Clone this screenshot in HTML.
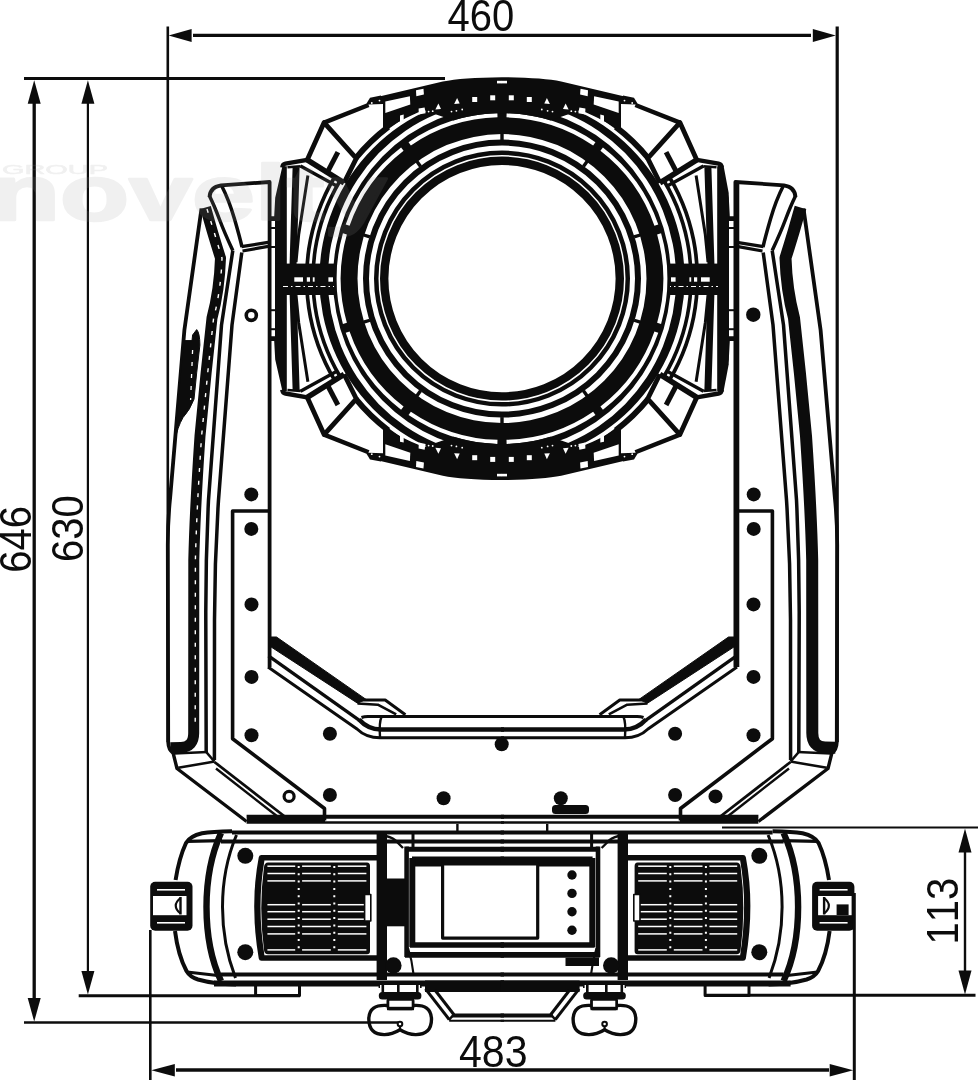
<!DOCTYPE html>
<html><head><meta charset="utf-8"><title>Dimensions</title>
<style>
html,body{margin:0;padding:0;background:#fff;}
body{width:978px;height:1080px;overflow:hidden;font-family:"Liberation Sans",sans-serif;}
svg{display:block;position:absolute;left:0;top:0;will-change:transform;}
svg text{font-family:"Liberation Sans",sans-serif;stroke:none;font-kerning:none;}
</style></head><body>
<svg width="978" height="1080" viewBox="0 0 978 1080" fill="none" stroke="#0c0c0c" stroke-linecap="butt" stroke-linejoin="round">
<path d="M304.8,278.6 A197.2,199 0 1 0 699.2,278.6 A197.2,199 0 1 0 304.8,278.6 Z M308.5,278.6 A193.5,195 0 1 0 695.5,278.6 A193.5,195 0 1 0 308.5,278.6 Z" fill="#0c0c0c" fill-rule="evenodd" stroke="none"/><path d="M311.2,278.6 A190.8,192 0 1 0 692.8,278.6 A190.8,192 0 1 0 311.2,278.6 Z M314.8,278.6 A187.2,188 0 1 0 689.2,278.6 A187.2,188 0 1 0 314.8,278.6 Z" fill="#0c0c0c" fill-rule="evenodd" stroke="none"/><path d="M319.4,278.6 A182.6,184 0 1 0 684.6,278.6 A182.6,184 0 1 0 319.4,278.6 Z M327.9,278.6 A174.1,177.5 0 1 0 676.1,278.6 A174.1,177.5 0 1 0 327.9,278.6 Z" fill="#0c0c0c" fill-rule="evenodd" stroke="none"/><path d="M333.0,278.6 A169,172.5 0 1 0 671.0,278.6 A169,172.5 0 1 0 333.0,278.6 Z M357.5,278.6 A144.5,144.5 0 1 0 646.5,278.6 A144.5,144.5 0 1 0 357.5,278.6 Z" fill="#0c0c0c" fill-rule="evenodd" stroke="none"/><circle cx="502.0" cy="278.6" r="136" stroke-width="6" /><circle cx="502.0" cy="278.6" r="125.75" stroke-width="4.5" /><circle cx="502.0" cy="278.6" r="117.8" stroke-width="8.4" /><path d="M656.36,332.05 A163.35,163.35 0 0 1 601.67,408.02" stroke-width="4.1" stroke="#fff"/><path d="M594.29,413.38 A163.35,163.35 0 0 1 506.56,441.89" stroke-width="4.1" stroke="#fff"/><path d="M497.44,441.89 A163.35,163.35 0 0 1 409.71,413.38" stroke-width="4.1" stroke="#fff"/><path d="M402.33,408.02 A163.35,163.35 0 0 1 347.64,332.05" stroke-width="4.1" stroke="#fff"/><path d="M344.90,323.35 A163.35,163.35 0 0 1 344.90,233.85" stroke-width="4.1" stroke="#fff"/><path d="M347.64,225.15 A163.35,163.35 0 0 1 402.33,149.18" stroke-width="4.1" stroke="#fff"/><path d="M409.71,143.82 A163.35,163.35 0 0 1 497.44,115.31" stroke-width="4.1" stroke="#fff"/><path d="M506.56,115.31 A163.35,163.35 0 0 1 594.29,143.82" stroke-width="4.1" stroke="#fff"/><path d="M601.67,149.18 A163.35,163.35 0 0 1 656.36,225.15" stroke-width="4.1" stroke="#fff"/><path d="M659.10,233.85 A163.35,163.35 0 0 1 659.10,323.35" stroke-width="4.1" stroke="#fff"/><line x1="502.00" y1="140.10" x2="502.00" y2="133.60" stroke-width="3.4"/><line x1="420.59" y1="166.55" x2="416.77" y2="161.29" stroke-width="3.4"/><line x1="583.41" y1="166.55" x2="587.23" y2="161.29" stroke-width="3.4"/><line x1="502.00" y1="417.10" x2="502.00" y2="423.60" stroke-width="3.4"/><line x1="420.59" y1="390.65" x2="416.77" y2="395.91" stroke-width="3.4"/><line x1="583.41" y1="390.65" x2="587.23" y2="395.91" stroke-width="3.4"/><line x1="369.91" y1="236.95" x2="363.71" y2="235.00" stroke-width="3.4"/><line x1="634.09" y1="236.95" x2="640.29" y2="235.00" stroke-width="3.4"/><line x1="369.91" y1="320.25" x2="363.71" y2="322.20" stroke-width="3.4"/><line x1="634.09" y1="320.25" x2="640.29" y2="322.20" stroke-width="3.4"/><g><g><path d="M380.4,96.2 L442.8,81.5 Q462,77.6 502,77.2 L502,113.4 L496.23,113.30 L490.46,113.60 L484.71,114.11 L478.98,114.81 L473.28,115.71 L467.61,116.81 L461.99,118.11 L456.41,119.61 L453.64,120.43 L423.90,110.21 L417.86,112.58 L411.89,115.16 L406.00,117.97 L400.19,120.99 L394.47,124.22 L388.86,127.66 L387.6,128.6 L383,129.6 L383,122.4 L380.4,122.4 Z" fill="#0c0c0c" stroke="none"/><polygon points="366.50,103.50 370.00,97.80 381.00,95.60 381.00,106.00 371.00,107.00" fill="#0c0c0c" stroke="none"/><circle cx="371.8" cy="103" r="0.9" fill="#fff" stroke="none"/><circle cx="379.5" cy="100.6" r="0.9" fill="#fff" stroke="none"/><polygon points="385.30,101.60 409.90,96.30 410.30,104.40 385.30,113.00" fill="#fff" stroke="none"/><polygon points="400.00,115.50 403.70,114.60 403.70,121.50 400.00,122.40" fill="#fff" stroke="none"/><polygon points="418.60,108.60 424.60,107.40 425.60,113.20 418.80,114.60" fill="#fff" stroke="none"/><polygon points="416.00,90.30 423.50,88.70 423.90,94.60 416.30,96.20" fill="#fff" stroke="none"/><rect x="490.20" y="95.30" width="5" height="5" fill="#fff" stroke="none"/><rect x="472.20" y="97.00" width="5" height="5" fill="#fff" stroke="none"/><polygon points="454.10,104.00 457.10,98.00 459.70,103.60" fill="#fff" stroke="none"/><polygon points="435.40,109.40 438.40,103.40 441.00,109.00" fill="#fff" stroke="none"/><circle cx="428.6" cy="111.6" r="0.9" fill="#fff" stroke="none"/><circle cx="432.7" cy="111.2" r="0.9" fill="#fff" stroke="none"/><circle cx="451.5" cy="111.6" r="0.9" fill="#fff" stroke="none"/><circle cx="456.4" cy="110.8" r="0.9" fill="#fff" stroke="none"/><circle cx="462.2" cy="109.5" r="0.9" fill="#fff" stroke="none"/><rect x="497" y="80.8" width="5.2" height="2.6" fill="#fff" stroke="none"/><polygon points="324.10,122.60 368.80,104.50 383.00,104.00 383.00,129.60 387.60,128.60 386.75,130.45 381.67,134.58 376.74,138.89 371.96,143.36 367.34,148.00 362.88,152.80 358.60,157.76 356.30,158.40" fill="#fff" stroke="none"/><path d="M355.74,158.26 A189,190 0 0 1 388.26,126.86" stroke-width="5.8" /><path d="M324.1,122.6 L368.6,105" stroke-width="4.4" /><polygon points="324.10,122.60 356.30,158.40 344.10,182.90 307.20,159.90" fill="#fff" stroke="none"/><path d="M307.2,159.9 L324.1,122.6 L356.3,158.4 L344.1,182.9" stroke-width="4.8" /><path d="M307.2,159.9 L344.1,182.9" stroke-width="5.5" /><path d="M300.5,166 L335.9,185.4" stroke-width="3.4" /><path d="M337.9,152.2 L327.7,171.7" stroke-width="5" /><path d="M307.2,159.9 L285.4,163.7 Q282.6,164.2 282.3,167.5" stroke-width="4.4" /><path d="M287.5,167.2 L300.7,166.2" stroke-width="2.6" /></g><g transform="translate(0,557.2) scale(1,-1)"><path d="M380.4,96.2 L442.8,81.5 Q462,77.6 502,77.2 L502,113.4 L496.23,113.30 L490.46,113.60 L484.71,114.11 L478.98,114.81 L473.28,115.71 L467.61,116.81 L461.99,118.11 L456.41,119.61 L453.64,120.43 L423.90,110.21 L417.86,112.58 L411.89,115.16 L406.00,117.97 L400.19,120.99 L394.47,124.22 L388.86,127.66 L387.6,128.6 L383,129.6 L383,122.4 L380.4,122.4 Z" fill="#0c0c0c" stroke="none"/><polygon points="366.50,103.50 370.00,97.80 381.00,95.60 381.00,106.00 371.00,107.00" fill="#0c0c0c" stroke="none"/><circle cx="371.8" cy="103" r="0.9" fill="#fff" stroke="none"/><circle cx="379.5" cy="100.6" r="0.9" fill="#fff" stroke="none"/><polygon points="385.30,101.60 409.90,96.30 410.30,104.40 385.30,113.00" fill="#fff" stroke="none"/><polygon points="400.00,115.50 403.70,114.60 403.70,121.50 400.00,122.40" fill="#fff" stroke="none"/><polygon points="418.60,108.60 424.60,107.40 425.60,113.20 418.80,114.60" fill="#fff" stroke="none"/><polygon points="416.00,90.30 423.50,88.70 423.90,94.60 416.30,96.20" fill="#fff" stroke="none"/><rect x="490.20" y="95.30" width="5" height="5" fill="#fff" stroke="none"/><rect x="472.20" y="97.00" width="5" height="5" fill="#fff" stroke="none"/><polygon points="454.10,104.00 457.10,98.00 459.70,103.60" fill="#fff" stroke="none"/><polygon points="435.40,109.40 438.40,103.40 441.00,109.00" fill="#fff" stroke="none"/><circle cx="428.6" cy="111.6" r="0.9" fill="#fff" stroke="none"/><circle cx="432.7" cy="111.2" r="0.9" fill="#fff" stroke="none"/><circle cx="451.5" cy="111.6" r="0.9" fill="#fff" stroke="none"/><circle cx="456.4" cy="110.8" r="0.9" fill="#fff" stroke="none"/><circle cx="462.2" cy="109.5" r="0.9" fill="#fff" stroke="none"/><rect x="497" y="80.8" width="5.2" height="2.6" fill="#fff" stroke="none"/><polygon points="324.10,122.60 368.80,104.50 383.00,104.00 383.00,129.60 387.60,128.60 386.75,130.45 381.67,134.58 376.74,138.89 371.96,143.36 367.34,148.00 362.88,152.80 358.60,157.76 356.30,158.40" fill="#fff" stroke="none"/><path d="M355.74,158.26 A189,190 0 0 1 388.26,126.86" stroke-width="5.8" /><path d="M324.1,122.6 L368.6,105" stroke-width="4.4" /><polygon points="324.10,122.60 356.30,158.40 344.10,182.90 307.20,159.90" fill="#fff" stroke="none"/><path d="M307.2,159.9 L324.1,122.6 L356.3,158.4 L344.1,182.9" stroke-width="4.8" /><path d="M307.2,159.9 L344.1,182.9" stroke-width="5.5" /><path d="M300.5,166 L335.9,185.4" stroke-width="3.4" /><path d="M337.9,152.2 L327.7,171.7" stroke-width="5" /><path d="M307.2,159.9 L285.4,163.7 Q282.6,164.2 282.3,167.5" stroke-width="4.4" /><path d="M287.5,167.2 L300.7,166.2" stroke-width="2.6" /></g></g><g transform="translate(1004.0,0) scale(-1,1)"><g><path d="M380.4,96.2 L442.8,81.5 Q462,77.6 502,77.2 L502,113.4 L496.23,113.30 L490.46,113.60 L484.71,114.11 L478.98,114.81 L473.28,115.71 L467.61,116.81 L461.99,118.11 L456.41,119.61 L453.64,120.43 L423.90,110.21 L417.86,112.58 L411.89,115.16 L406.00,117.97 L400.19,120.99 L394.47,124.22 L388.86,127.66 L387.6,128.6 L383,129.6 L383,122.4 L380.4,122.4 Z" fill="#0c0c0c" stroke="none"/><polygon points="366.50,103.50 370.00,97.80 381.00,95.60 381.00,106.00 371.00,107.00" fill="#0c0c0c" stroke="none"/><circle cx="371.8" cy="103" r="0.9" fill="#fff" stroke="none"/><circle cx="379.5" cy="100.6" r="0.9" fill="#fff" stroke="none"/><polygon points="385.30,101.60 409.90,96.30 410.30,104.40 385.30,113.00" fill="#fff" stroke="none"/><polygon points="400.00,115.50 403.70,114.60 403.70,121.50 400.00,122.40" fill="#fff" stroke="none"/><polygon points="418.60,108.60 424.60,107.40 425.60,113.20 418.80,114.60" fill="#fff" stroke="none"/><polygon points="416.00,90.30 423.50,88.70 423.90,94.60 416.30,96.20" fill="#fff" stroke="none"/><rect x="490.20" y="95.30" width="5" height="5" fill="#fff" stroke="none"/><rect x="472.20" y="97.00" width="5" height="5" fill="#fff" stroke="none"/><polygon points="454.10,104.00 457.10,98.00 459.70,103.60" fill="#fff" stroke="none"/><polygon points="435.40,109.40 438.40,103.40 441.00,109.00" fill="#fff" stroke="none"/><circle cx="428.6" cy="111.6" r="0.9" fill="#fff" stroke="none"/><circle cx="432.7" cy="111.2" r="0.9" fill="#fff" stroke="none"/><circle cx="451.5" cy="111.6" r="0.9" fill="#fff" stroke="none"/><circle cx="456.4" cy="110.8" r="0.9" fill="#fff" stroke="none"/><circle cx="462.2" cy="109.5" r="0.9" fill="#fff" stroke="none"/><rect x="497" y="80.8" width="5.2" height="2.6" fill="#fff" stroke="none"/><polygon points="324.10,122.60 368.80,104.50 383.00,104.00 383.00,129.60 387.60,128.60 386.75,130.45 381.67,134.58 376.74,138.89 371.96,143.36 367.34,148.00 362.88,152.80 358.60,157.76 356.30,158.40" fill="#fff" stroke="none"/><path d="M355.74,158.26 A189,190 0 0 1 388.26,126.86" stroke-width="5.8" /><path d="M324.1,122.6 L368.6,105" stroke-width="4.4" /><polygon points="324.10,122.60 356.30,158.40 344.10,182.90 307.20,159.90" fill="#fff" stroke="none"/><path d="M307.2,159.9 L324.1,122.6 L356.3,158.4 L344.1,182.9" stroke-width="4.8" /><path d="M307.2,159.9 L344.1,182.9" stroke-width="5.5" /><path d="M300.5,166 L335.9,185.4" stroke-width="3.4" /><path d="M337.9,152.2 L327.7,171.7" stroke-width="5" /><path d="M307.2,159.9 L285.4,163.7 Q282.6,164.2 282.3,167.5" stroke-width="4.4" /><path d="M287.5,167.2 L300.7,166.2" stroke-width="2.6" /></g><g transform="translate(0,557.2) scale(1,-1)"><path d="M380.4,96.2 L442.8,81.5 Q462,77.6 502,77.2 L502,113.4 L496.23,113.30 L490.46,113.60 L484.71,114.11 L478.98,114.81 L473.28,115.71 L467.61,116.81 L461.99,118.11 L456.41,119.61 L453.64,120.43 L423.90,110.21 L417.86,112.58 L411.89,115.16 L406.00,117.97 L400.19,120.99 L394.47,124.22 L388.86,127.66 L387.6,128.6 L383,129.6 L383,122.4 L380.4,122.4 Z" fill="#0c0c0c" stroke="none"/><polygon points="366.50,103.50 370.00,97.80 381.00,95.60 381.00,106.00 371.00,107.00" fill="#0c0c0c" stroke="none"/><circle cx="371.8" cy="103" r="0.9" fill="#fff" stroke="none"/><circle cx="379.5" cy="100.6" r="0.9" fill="#fff" stroke="none"/><polygon points="385.30,101.60 409.90,96.30 410.30,104.40 385.30,113.00" fill="#fff" stroke="none"/><polygon points="400.00,115.50 403.70,114.60 403.70,121.50 400.00,122.40" fill="#fff" stroke="none"/><polygon points="418.60,108.60 424.60,107.40 425.60,113.20 418.80,114.60" fill="#fff" stroke="none"/><polygon points="416.00,90.30 423.50,88.70 423.90,94.60 416.30,96.20" fill="#fff" stroke="none"/><rect x="490.20" y="95.30" width="5" height="5" fill="#fff" stroke="none"/><rect x="472.20" y="97.00" width="5" height="5" fill="#fff" stroke="none"/><polygon points="454.10,104.00 457.10,98.00 459.70,103.60" fill="#fff" stroke="none"/><polygon points="435.40,109.40 438.40,103.40 441.00,109.00" fill="#fff" stroke="none"/><circle cx="428.6" cy="111.6" r="0.9" fill="#fff" stroke="none"/><circle cx="432.7" cy="111.2" r="0.9" fill="#fff" stroke="none"/><circle cx="451.5" cy="111.6" r="0.9" fill="#fff" stroke="none"/><circle cx="456.4" cy="110.8" r="0.9" fill="#fff" stroke="none"/><circle cx="462.2" cy="109.5" r="0.9" fill="#fff" stroke="none"/><rect x="497" y="80.8" width="5.2" height="2.6" fill="#fff" stroke="none"/><polygon points="324.10,122.60 368.80,104.50 383.00,104.00 383.00,129.60 387.60,128.60 386.75,130.45 381.67,134.58 376.74,138.89 371.96,143.36 367.34,148.00 362.88,152.80 358.60,157.76 356.30,158.40" fill="#fff" stroke="none"/><path d="M355.74,158.26 A189,190 0 0 1 388.26,126.86" stroke-width="5.8" /><path d="M324.1,122.6 L368.6,105" stroke-width="4.4" /><polygon points="324.10,122.60 356.30,158.40 344.10,182.90 307.20,159.90" fill="#fff" stroke="none"/><path d="M307.2,159.9 L324.1,122.6 L356.3,158.4 L344.1,182.9" stroke-width="4.8" /><path d="M307.2,159.9 L344.1,182.9" stroke-width="5.5" /><path d="M300.5,166 L335.9,185.4" stroke-width="3.4" /><path d="M337.9,152.2 L327.7,171.7" stroke-width="5" /><path d="M307.2,159.9 L285.4,163.7 Q282.6,164.2 282.3,167.5" stroke-width="4.4" /><path d="M287.5,167.2 L300.7,166.2" stroke-width="2.6" /></g></g><g><g><polygon points="282.40,166.30 286.80,166.30 286.80,279.00 275.00,279.00 275.00,221.00 270.00,221.00 270.00,216.20 274.20,216.20 275.20,197.80" fill="#0c0c0c" stroke="none"/><path d="M296.1,167.2 L292.6,279" stroke-width="7" /><path d="M307.9,175.4 L298.7,234.5 L296,262" stroke-width="3" /><path d="M270,228 L275,228" stroke-width="2" /><path d="M270,247 L275,247" stroke-width="2" /></g><g transform="translate(0,557.2) scale(1,-1)"><polygon points="282.40,166.30 286.80,166.30 286.80,279.00 275.00,279.00 275.00,221.00 270.00,221.00 270.00,216.20 274.20,216.20 275.20,197.80" fill="#0c0c0c" stroke="none"/><path d="M296.1,167.2 L292.6,279" stroke-width="7" /><path d="M307.9,175.4 L298.7,234.5 L296,262" stroke-width="3" /><path d="M270,228 L275,228" stroke-width="2" /><path d="M270,247 L275,247" stroke-width="2" /></g></g><g transform="translate(1004.0,0) scale(-1,1)"><g><polygon points="282.40,166.30 286.80,166.30 286.80,279.00 275.00,279.00 275.00,221.00 270.00,221.00 270.00,216.20 274.20,216.20 275.20,197.80" fill="#0c0c0c" stroke="none"/><path d="M296.1,167.2 L292.6,279" stroke-width="7" /><path d="M307.9,175.4 L298.7,234.5 L296,262" stroke-width="3" /><path d="M270,228 L275,228" stroke-width="2" /><path d="M270,247 L275,247" stroke-width="2" /></g><g transform="translate(0,557.2) scale(1,-1)"><polygon points="282.40,166.30 286.80,166.30 286.80,279.00 275.00,279.00 275.00,221.00 270.00,221.00 270.00,216.20 274.20,216.20 275.20,197.80" fill="#0c0c0c" stroke="none"/><path d="M296.1,167.2 L292.6,279" stroke-width="7" /><path d="M307.9,175.4 L298.7,234.5 L296,262" stroke-width="3" /><path d="M270,228 L275,228" stroke-width="2" /><path d="M270,247 L275,247" stroke-width="2" /></g></g><g><rect x="275" y="263.6" width="61.2" height="31.4" fill="#0c0c0c" stroke="none"/><rect x="294.3" y="277.3" width="8.699999999999989" height="4.4" fill="#fff" stroke="none"/><rect x="306.8" y="277.3" width="3.1999999999999886" height="4.4" fill="#fff" stroke="none"/><rect x="312.8" y="277.3" width="1.8000000000000114" height="4.4" fill="#fff" stroke="none"/><rect x="328.4" y="277.3" width="4.600000000000023" height="4.4" fill="#fff" stroke="none"/><line x1="283" y1="286.5" x2="334" y2="286.5" stroke="#fff" stroke-width="1.2" stroke-dasharray="5 3 1.5 3"/></g><g transform="translate(1004.0,0) scale(-1,1)"><rect x="275" y="263.6" width="61.2" height="31.4" fill="#0c0c0c" stroke="none"/><rect x="294.3" y="277.3" width="8.699999999999989" height="4.4" fill="#fff" stroke="none"/><rect x="306.8" y="277.3" width="3.1999999999999886" height="4.4" fill="#fff" stroke="none"/><rect x="312.8" y="277.3" width="1.8000000000000114" height="4.4" fill="#fff" stroke="none"/><rect x="328.4" y="277.3" width="4.600000000000023" height="4.4" fill="#fff" stroke="none"/><line x1="283" y1="286.5" x2="334" y2="286.5" stroke="#fff" stroke-width="1.2" stroke-dasharray="5 3 1.5 3"/></g><g><polygon points="719.00,164.20 723.50,165.50 728.70,193.00 728.70,279.00 718.00,279.00 718.00,166.00" fill="#0c0c0c" stroke="none"/></g><g transform="translate(0,557.2) scale(1,-1)"><polygon points="719.00,164.20 723.50,165.50 728.70,193.00 728.70,279.00 718.00,279.00 718.00,166.00" fill="#0c0c0c" stroke="none"/></g><g><path d="M269.6,667 L269.6,182 L221,185.3 Q210,187 209.5,197" stroke-width="3.8" /><path d="M221.5,185.5 Q229,200 234.5,219 T242,247" stroke-width="3.5" /><path d="M209.5,196 Q214,205 219.3,219 T232.8,250.5" stroke-width="3.5" /><path d="M241.5,246.6 L269.6,242.2" stroke-width="3.2" /><path d="M242.5,251 L269.6,246.2" stroke-width="3.2" /><path d="M232.8,250.5 L221.5,325 L208.5,500 Q205.6,560 205.8,620 L206.2,752" stroke-width="3.5" /><path d="M241.8,252.5 L232,325 L218.5,500 Q214.6,560 214.5,620 L214.4,760" stroke-width="3.5" /><path d="M201.5,208.5 L184.4,330 L170.2,497 Q167.8,520 167.8,545 L168.2,742 Q168.5,750 173,752.5" stroke-width="3.8" /><path d="M173,752.5 L177,768.5 L246.6,821.5" stroke-width="3.4" /><path d="M174,753.5 L207.5,752" stroke-width="2.6" /><path d="M206.2,752 L214.4,761.5" stroke-width="2.6" /><path d="M178.2,767.8 L207.5,762.8 L214.4,761.5" stroke-width="2.6" /><path d="M214.4,762 L286,817.5" stroke-width="2.8" /><path d="M216,768.5 L282,820" stroke-width="2.4" /><path d="M269.6,511 L232.6,511 L232.6,738.7 L324.5,808.5 L324.5,820.5" stroke-width="3.6" /><circle cx="251.3" cy="494.4" r="7" fill="#0c0c0c" stroke="none"/><circle cx="251.3" cy="528.9" r="7" fill="#0c0c0c" stroke="none"/><circle cx="251.5" cy="604.4" r="7" fill="#0c0c0c" stroke="none"/><circle cx="251.5" cy="676.9" r="7" fill="#0c0c0c" stroke="none"/><circle cx="251.5" cy="735.2" r="7" fill="#0c0c0c" stroke="none"/><circle cx="329.9" cy="733.8" r="7" fill="#0c0c0c" stroke="none"/><circle cx="329.9" cy="795" r="7" fill="#0c0c0c" stroke="none"/><polygon points="269.6,637 276.5,637 366,699.4 357.5,703.2 269.6,646" fill="#0c0c0c" stroke="#0c0c0c" stroke-width="1"/><path d="M362,700 L385.2,700 L405.4,714.8" stroke-width="3" /><path d="M357.5,703.5 L377.8,704.7 L396.2,714.4" stroke-width="2.6" /><path d="M268.5,655.9 L359.4,720.3" stroke-width="3.3" /><path d="M268,667 L357,729 Q366,737.8 380,737.8 L504,737.8" stroke-width="3" /><path d="M361.5,717.5 Q364,716.6 368,716.6 L504,716.6" stroke-width="3" /><path d="M359,719.5 Q368,729.5 381,729.5 L504,729.5" stroke-width="4.6" /><path d="M381.5,717 Q379,722 380,737" stroke-width="2.4" /><path d="M246.6,816.8 L504,816.8" stroke-width="4" /><path d="M247,819.6 L325,819.6" stroke-width="5.5" /><path d="M246.6,822.6 L504,822.6" stroke-width="2.5" /></g><g transform="translate(1005.0,0) scale(-1,1)"><path d="M269.6,667 L269.6,182 L221,185.3 Q210,187 209.5,197" stroke-width="3.8" /><path d="M221.5,185.5 Q229,200 234.5,219 T242,247" stroke-width="3.5" /><path d="M209.5,196 Q214,205 219.3,219 T232.8,250.5" stroke-width="3.5" /><path d="M241.5,246.6 L269.6,242.2" stroke-width="3.2" /><path d="M242.5,251 L269.6,246.2" stroke-width="3.2" /><path d="M232.8,250.5 L221.5,325 L208.5,500 Q205.6,560 205.8,620 L206.2,752" stroke-width="3.5" /><path d="M241.8,252.5 L232,325 L218.5,500 Q214.6,560 214.5,620 L214.4,760" stroke-width="3.5" /><path d="M201.5,208.5 L184.4,330 L170.2,497 Q167.8,520 167.8,545 L168.2,742 Q168.5,750 173,752.5" stroke-width="3.8" /><path d="M173,752.5 L177,768.5 L246.6,821.5" stroke-width="3.4" /><path d="M174,753.5 L207.5,752" stroke-width="2.6" /><path d="M206.2,752 L214.4,761.5" stroke-width="2.6" /><path d="M178.2,767.8 L207.5,762.8 L214.4,761.5" stroke-width="2.6" /><path d="M214.4,762 L286,817.5" stroke-width="2.8" /><path d="M216,768.5 L282,820" stroke-width="2.4" /><path d="M269.6,511 L232.6,511 L232.6,738.7 L324.5,808.5 L324.5,820.5" stroke-width="3.6" /><circle cx="251.3" cy="494.4" r="7" fill="#0c0c0c" stroke="none"/><circle cx="251.3" cy="528.9" r="7" fill="#0c0c0c" stroke="none"/><circle cx="251.5" cy="604.4" r="7" fill="#0c0c0c" stroke="none"/><circle cx="251.5" cy="676.9" r="7" fill="#0c0c0c" stroke="none"/><circle cx="251.5" cy="735.2" r="7" fill="#0c0c0c" stroke="none"/><circle cx="329.9" cy="733.8" r="7" fill="#0c0c0c" stroke="none"/><circle cx="329.9" cy="795" r="7" fill="#0c0c0c" stroke="none"/><polygon points="269.6,637 276.5,637 366,699.4 357.5,703.2 269.6,646" fill="#0c0c0c" stroke="#0c0c0c" stroke-width="1"/><path d="M362,700 L385.2,700 L405.4,714.8" stroke-width="3" /><path d="M357.5,703.5 L377.8,704.7 L396.2,714.4" stroke-width="2.6" /><path d="M268.5,655.9 L359.4,720.3" stroke-width="3.3" /><path d="M268,667 L357,729 Q366,737.8 380,737.8 L504,737.8" stroke-width="3" /><path d="M361.5,717.5 Q364,716.6 368,716.6 L504,716.6" stroke-width="3" /><path d="M359,719.5 Q368,729.5 381,729.5 L504,729.5" stroke-width="4.6" /><path d="M381.5,717 Q379,722 380,737" stroke-width="2.4" /><path d="M246.6,816.8 L504,816.8" stroke-width="4" /><path d="M247,819.6 L325,819.6" stroke-width="5.5" /><path d="M246.6,822.6 L504,822.6" stroke-width="2.5" /></g><path d="M205.5,207.5 L212.2,231 Q217,247 220.5,258 Q219.5,290 212,318 L206.1,373 L200,436 Q195,510 193.8,560 L193.7,733 Q193.7,747 181,747.4 L170.5,747.8" stroke-width="11" stroke-linejoin="round"/><path d="M207,209 L213.8,231 Q218.5,247 222,258 Q221,290 213.6,318 L207.7,373 L201.6,436 Q196.6,510 195.4,560 L195.2,730" stroke-width="1.4" stroke="#fff" stroke-dasharray="4 8.5"/><g transform="translate(1006,0) scale(-1,1)"><path d="M205.5,207.5 L212.2,231 Q217,247 220.5,258 Q219.5,290 212,318 L206.1,373 L200,436 Q195,510 193.8,560 L193.7,733 Q193.7,747 181,747.4 L170.5,747.8" stroke-width="12" stroke-linejoin="round"/></g><circle cx="251.3" cy="315.3" r="5.05" fill="#fff" stroke-width="3.6"/><path d="M738,183 L738,667" stroke-width="2.6" /><circle cx="753.3" cy="314.7" r="7.2" fill="#0c0c0c" stroke="none"/><circle cx="289.1" cy="796.4" r="5" fill="#fff" stroke-width="3.2"/><circle cx="715.5" cy="796.4" r="7" fill="#0c0c0c" stroke="none"/><circle cx="501.7" cy="744.3" r="7" fill="#0c0c0c" stroke="none"/><circle cx="443.6" cy="798.2" r="7" fill="#0c0c0c" stroke="none"/><circle cx="560.8" cy="798.2" r="7" fill="#0c0c0c" stroke="none"/><rect x="552" y="805" width="37" height="9" rx="3.5" fill="#0c0c0c" stroke="none"/><path d="M196.7,329.6 Q199.8,333 199.9,345 L196.7,372.8 L194,399.2 Q190,410 183,417.6 Q177.5,427 174.7,441.5 L172.4,460 L175.4,436 L181,372.8 L184.5,340.6 L192,340.6 L192.6,335 Z" fill="#0c0c0c" stroke="#0c0c0c" stroke-width="1"/><path d="M192.6,350 L190.6,400" stroke-width="1.3" stroke="#fff" stroke-dasharray="4 8"/><g><path d="M504,832.4 L232,832.4" stroke-width="4" /><path d="M232,831.2 Q212,831.5 202,833.2 Q190,836 186,843 Q179,858 175.6,880" stroke-width="4" /><path d="M175,931 Q178,955 186.5,971 Q190,977 198,979.5 Q214,984 236,984.5" stroke-width="4" /><path d="M187,841.4 L222,840.6" stroke-width="3.2" /><path d="M187,972 L222,976" stroke-width="3.2" /><path d="M221,841.4 L504,841.4" stroke-width="4" /><path d="M221,974.5 L504,974.5" stroke-width="4" /><path d="M214,983.5 L504,983.5" stroke-width="5.8" /><path d="M221,833 Q206.5,865 206.5,907 Q206.5,950 221,981" stroke-width="6.4" /><path d="M236.5,835 Q222.5,868 222.5,907 Q222.5,944 235.5,978" stroke-width="3" /><circle cx="245.3" cy="855.8" r="8" fill="#0c0c0c" stroke="none"/><circle cx="245.3" cy="952.2" r="8" fill="#0c0c0c" stroke="none"/><path d="M380,857.7 L261.5,857.7 Q252.5,905 261.5,958 L380,958" stroke-width="5.6" fill="#fff"/><path d="M262.5,860 Q254.5,905 262.5,956" stroke-width="4" /><path d="M268,862.5 L367,862.5 Q370,862.5 370,866 L370,951 Q370,954.3 367,954.3 L268,954.3 Q264.5,954.3 264,950 Q258.5,908 264,867 Q264.5,862.5 268,862.5 Z" fill="#0c0c0c" stroke="none"/><line x1="267.4" y1="866.2" x2="295.2" y2="866.2" stroke="#fff" stroke-width="1.5"/><line x1="302.1" y1="866.2" x2="330.8" y2="866.2" stroke="#fff" stroke-width="1.5"/><line x1="337.8" y1="866.2" x2="366.4" y2="866.2" stroke="#fff" stroke-width="1.5"/><line x1="267.4" y1="873.5" x2="295.2" y2="873.5" stroke="#fff" stroke-width="1.5"/><line x1="302.1" y1="873.5" x2="330.8" y2="873.5" stroke="#fff" stroke-width="1.5"/><line x1="337.8" y1="873.5" x2="366.4" y2="873.5" stroke="#fff" stroke-width="1.5"/><line x1="267.4" y1="880.9" x2="295.2" y2="880.9" stroke="#fff" stroke-width="1.5"/><line x1="302.1" y1="880.9" x2="330.8" y2="880.9" stroke="#fff" stroke-width="1.5"/><line x1="337.8" y1="880.9" x2="366.4" y2="880.9" stroke="#fff" stroke-width="1.5"/><line x1="267.4" y1="904.7" x2="295.2" y2="904.7" stroke="#fff" stroke-width="1.5"/><line x1="302.1" y1="904.7" x2="330.8" y2="904.7" stroke="#fff" stroke-width="1.5"/><line x1="337.8" y1="904.7" x2="366.4" y2="904.7" stroke="#fff" stroke-width="1.5"/><line x1="267.4" y1="911.7" x2="295.2" y2="911.7" stroke="#fff" stroke-width="1.5"/><line x1="302.1" y1="911.7" x2="330.8" y2="911.7" stroke="#fff" stroke-width="1.5"/><line x1="337.8" y1="911.7" x2="366.4" y2="911.7" stroke="#fff" stroke-width="1.5"/><line x1="267.4" y1="919.2" x2="295.2" y2="919.2" stroke="#fff" stroke-width="1.5"/><line x1="302.1" y1="919.2" x2="330.8" y2="919.2" stroke="#fff" stroke-width="1.5"/><line x1="337.8" y1="919.2" x2="366.4" y2="919.2" stroke="#fff" stroke-width="1.5"/><line x1="267.4" y1="926.5" x2="295.2" y2="926.5" stroke="#fff" stroke-width="1.5"/><line x1="302.1" y1="926.5" x2="330.8" y2="926.5" stroke="#fff" stroke-width="1.5"/><line x1="337.8" y1="926.5" x2="366.4" y2="926.5" stroke="#fff" stroke-width="1.5"/><line x1="267.4" y1="933.9" x2="295.2" y2="933.9" stroke="#fff" stroke-width="1.5"/><line x1="302.1" y1="933.9" x2="330.8" y2="933.9" stroke="#fff" stroke-width="1.5"/><line x1="337.8" y1="933.9" x2="366.4" y2="933.9" stroke="#fff" stroke-width="1.5"/><line x1="267.4" y1="949.9" x2="295.2" y2="949.9" stroke="#fff" stroke-width="1.5"/><line x1="302.1" y1="949.9" x2="330.8" y2="949.9" stroke="#fff" stroke-width="1.5"/><line x1="337.8" y1="949.9" x2="366.4" y2="949.9" stroke="#fff" stroke-width="1.5"/><line x1="298.7" y1="866" x2="298.7" y2="951" stroke="#fff" stroke-width="2" stroke-dasharray="2 5.3"/><line x1="334.3" y1="866" x2="334.3" y2="951" stroke="#fff" stroke-width="2" stroke-dasharray="2 5.3"/><rect x="364.6" y="894.5" width="6.2" height="26.5" rx="0" fill="#fff" stroke="#0c0c0c" stroke-width="1.6"/><rect x="376.6" y="834" width="10.4" height="146" rx="0" fill="#0c0c0c" stroke="none"/><path d="M255.6,985 L255.6,995.5 L299.5,995.5 L299.5,985" stroke-width="3" /><rect x="150.2" y="881.8" width="42.3" height="49" rx="5" fill="#0c0c0c" stroke="none"/><rect x="153" y="896" width="33.5" height="19.2" rx="0" fill="#fff" stroke="none"/><path d="M157,889.8 L185,889.8" stroke-width="1.6" stroke="#fff"/><path d="M157,922.8 L185,922.8" stroke-width="1.6" stroke="#fff"/><path d="M180.5,897 L180.5,914.5" stroke-width="2.4" /><path d="M180.5,898 Q171,905.5 180.5,913.5" stroke-width="2.2" /><path d="M457.4,824 L457.4,831" stroke-width="2.4" /><path d="M405.8,849.2 L504,849.2" stroke-width="5" /><path d="M412,861.5 L504,861.5" stroke-width="10" /><path d="M406.6,846.5 L406.6,957" stroke-width="4.6" /><path d="M412.3,858 L412.3,947" stroke-width="6" /><path d="M410,945 L504,945" stroke-width="5.7" /><path d="M405,954.8 L504,954.8" stroke-width="5.7" /><path d="M413,834 L413,847" stroke-width="3" /><path d="M386,836 Q394,838 397,842 L403,848" stroke-width="2.4" /><path d="M408,948 Q412,960 413.5,974" stroke-width="2.2" /><circle cx="393.4" cy="965.5" r="8.2" fill="#0c0c0c" stroke="none"/><rect x="378.6" y="984" width="43" height="4" rx="0" fill="#0c0c0c" stroke="none"/><rect x="380" y="985" width="40" height="7.5" rx="0" fill="#fff" stroke="none"/><rect x="381.5" y="984" width="2.6" height="9" rx="0" fill="#0c0c0c" stroke="none"/><rect x="397" y="984" width="2.6" height="9" rx="0" fill="#0c0c0c" stroke="none"/><rect x="416" y="984" width="2.6" height="9" rx="0" fill="#0c0c0c" stroke="none"/><rect x="378.8" y="992" width="42.6" height="7.6" rx="3.5" fill="#0c0c0c" stroke="none"/><rect x="388" y="999.5" width="25" height="9.5" rx="1" fill="#fff" stroke="#0c0c0c" stroke-width="2.6"/><path d="M387,1008.5 L414,1008.5" stroke-width="3.4" /><path d="M387.5,1005.5 Q369,1004 368.8,1019 Q369,1034.8 384.5,1034.6 Q392,1034.5 400,1029.7 Q408,1034.5 415.5,1034.6 Q431.5,1034.8 431.5,1019 Q431,1004 413,1005.5" stroke-width="3.4" fill="#fff"/><rect x="388" y="999.5" width="25" height="9.5" rx="1" fill="#fff" stroke="#0c0c0c" stroke-width="2.6"/><path d="M387,1008.5 L414,1008.5" stroke-width="3.4" /><path d="M400,1029.7 L400,1026" stroke-width="2.2" /><circle cx="400" cy="1024" r="2.3" stroke-width="2"/><path d="M425,980.6 L504,980.6 L504,992 L425,992 Z" fill="#0c0c0c" stroke="none"/><path d="M425.5,988.8 L449.2,1019.5" stroke-width="3" /><path d="M435.3,990.5 L453.8,1014.5" stroke-width="3" /><path d="M449.2,1020.7 L504,1020.7" stroke-width="2" /><path d="M452,1015.4 L504,1015.4" stroke-width="4" /><path d="M449,1020 L454.5,1013.5" stroke-width="2.4" /></g><g transform="translate(1004.6,0) scale(-1,1)"><path d="M504,832.4 L232,832.4" stroke-width="4" /><path d="M232,831.2 Q212,831.5 202,833.2 Q190,836 186,843 Q179,858 175.6,880" stroke-width="4" /><path d="M175,931 Q178,955 186.5,971 Q190,977 198,979.5 Q214,984 236,984.5" stroke-width="4" /><path d="M187,841.4 L222,840.6" stroke-width="3.2" /><path d="M187,972 L222,976" stroke-width="3.2" /><path d="M221,841.4 L504,841.4" stroke-width="4" /><path d="M221,974.5 L504,974.5" stroke-width="4" /><path d="M214,983.5 L504,983.5" stroke-width="5.8" /><path d="M221,833 Q206.5,865 206.5,907 Q206.5,950 221,981" stroke-width="6.4" /><path d="M236.5,835 Q222.5,868 222.5,907 Q222.5,944 235.5,978" stroke-width="3" /><circle cx="245.3" cy="855.8" r="8" fill="#0c0c0c" stroke="none"/><circle cx="245.3" cy="952.2" r="8" fill="#0c0c0c" stroke="none"/><path d="M380,857.7 L261.5,857.7 Q252.5,905 261.5,958 L380,958" stroke-width="5.6" fill="#fff"/><path d="M262.5,860 Q254.5,905 262.5,956" stroke-width="4" /><path d="M268,862.5 L367,862.5 Q370,862.5 370,866 L370,951 Q370,954.3 367,954.3 L268,954.3 Q264.5,954.3 264,950 Q258.5,908 264,867 Q264.5,862.5 268,862.5 Z" fill="#0c0c0c" stroke="none"/><line x1="267.4" y1="866.2" x2="295.2" y2="866.2" stroke="#fff" stroke-width="1.5"/><line x1="302.1" y1="866.2" x2="330.8" y2="866.2" stroke="#fff" stroke-width="1.5"/><line x1="337.8" y1="866.2" x2="366.4" y2="866.2" stroke="#fff" stroke-width="1.5"/><line x1="267.4" y1="873.5" x2="295.2" y2="873.5" stroke="#fff" stroke-width="1.5"/><line x1="302.1" y1="873.5" x2="330.8" y2="873.5" stroke="#fff" stroke-width="1.5"/><line x1="337.8" y1="873.5" x2="366.4" y2="873.5" stroke="#fff" stroke-width="1.5"/><line x1="267.4" y1="880.9" x2="295.2" y2="880.9" stroke="#fff" stroke-width="1.5"/><line x1="302.1" y1="880.9" x2="330.8" y2="880.9" stroke="#fff" stroke-width="1.5"/><line x1="337.8" y1="880.9" x2="366.4" y2="880.9" stroke="#fff" stroke-width="1.5"/><line x1="267.4" y1="904.7" x2="295.2" y2="904.7" stroke="#fff" stroke-width="1.5"/><line x1="302.1" y1="904.7" x2="330.8" y2="904.7" stroke="#fff" stroke-width="1.5"/><line x1="337.8" y1="904.7" x2="366.4" y2="904.7" stroke="#fff" stroke-width="1.5"/><line x1="267.4" y1="911.7" x2="295.2" y2="911.7" stroke="#fff" stroke-width="1.5"/><line x1="302.1" y1="911.7" x2="330.8" y2="911.7" stroke="#fff" stroke-width="1.5"/><line x1="337.8" y1="911.7" x2="366.4" y2="911.7" stroke="#fff" stroke-width="1.5"/><line x1="267.4" y1="919.2" x2="295.2" y2="919.2" stroke="#fff" stroke-width="1.5"/><line x1="302.1" y1="919.2" x2="330.8" y2="919.2" stroke="#fff" stroke-width="1.5"/><line x1="337.8" y1="919.2" x2="366.4" y2="919.2" stroke="#fff" stroke-width="1.5"/><line x1="267.4" y1="926.5" x2="295.2" y2="926.5" stroke="#fff" stroke-width="1.5"/><line x1="302.1" y1="926.5" x2="330.8" y2="926.5" stroke="#fff" stroke-width="1.5"/><line x1="337.8" y1="926.5" x2="366.4" y2="926.5" stroke="#fff" stroke-width="1.5"/><line x1="267.4" y1="933.9" x2="295.2" y2="933.9" stroke="#fff" stroke-width="1.5"/><line x1="302.1" y1="933.9" x2="330.8" y2="933.9" stroke="#fff" stroke-width="1.5"/><line x1="337.8" y1="933.9" x2="366.4" y2="933.9" stroke="#fff" stroke-width="1.5"/><line x1="267.4" y1="949.9" x2="295.2" y2="949.9" stroke="#fff" stroke-width="1.5"/><line x1="302.1" y1="949.9" x2="330.8" y2="949.9" stroke="#fff" stroke-width="1.5"/><line x1="337.8" y1="949.9" x2="366.4" y2="949.9" stroke="#fff" stroke-width="1.5"/><line x1="298.7" y1="866" x2="298.7" y2="951" stroke="#fff" stroke-width="2" stroke-dasharray="2 5.3"/><line x1="334.3" y1="866" x2="334.3" y2="951" stroke="#fff" stroke-width="2" stroke-dasharray="2 5.3"/><rect x="364.6" y="894.5" width="6.2" height="26.5" rx="0" fill="#fff" stroke="#0c0c0c" stroke-width="1.6"/><rect x="376.6" y="834" width="10.4" height="146" rx="0" fill="#0c0c0c" stroke="none"/><path d="M255.6,985 L255.6,995.5 L299.5,995.5 L299.5,985" stroke-width="3" /><rect x="150.2" y="881.8" width="42.3" height="49" rx="5" fill="#0c0c0c" stroke="none"/><rect x="153" y="896" width="33.5" height="19.2" rx="0" fill="#fff" stroke="none"/><path d="M157,889.8 L185,889.8" stroke-width="1.6" stroke="#fff"/><path d="M157,922.8 L185,922.8" stroke-width="1.6" stroke="#fff"/><path d="M180.5,897 L180.5,914.5" stroke-width="2.4" /><path d="M180.5,898 Q171,905.5 180.5,913.5" stroke-width="2.2" /><path d="M457.4,824 L457.4,831" stroke-width="2.4" /><path d="M405.8,849.2 L504,849.2" stroke-width="5" /><path d="M412,861.5 L504,861.5" stroke-width="10" /><path d="M406.6,846.5 L406.6,957" stroke-width="4.6" /><path d="M412.3,858 L412.3,947" stroke-width="6" /><path d="M410,945 L504,945" stroke-width="5.7" /><path d="M405,954.8 L504,954.8" stroke-width="5.7" /><path d="M413,834 L413,847" stroke-width="3" /><path d="M386,836 Q394,838 397,842 L403,848" stroke-width="2.4" /><path d="M408,948 Q412,960 413.5,974" stroke-width="2.2" /><circle cx="393.4" cy="965.5" r="8.2" fill="#0c0c0c" stroke="none"/><rect x="378.6" y="984" width="43" height="4" rx="0" fill="#0c0c0c" stroke="none"/><rect x="380" y="985" width="40" height="7.5" rx="0" fill="#fff" stroke="none"/><rect x="381.5" y="984" width="2.6" height="9" rx="0" fill="#0c0c0c" stroke="none"/><rect x="397" y="984" width="2.6" height="9" rx="0" fill="#0c0c0c" stroke="none"/><rect x="416" y="984" width="2.6" height="9" rx="0" fill="#0c0c0c" stroke="none"/><rect x="378.8" y="992" width="42.6" height="7.6" rx="3.5" fill="#0c0c0c" stroke="none"/><rect x="388" y="999.5" width="25" height="9.5" rx="1" fill="#fff" stroke="#0c0c0c" stroke-width="2.6"/><path d="M387,1008.5 L414,1008.5" stroke-width="3.4" /><path d="M387.5,1005.5 Q369,1004 368.8,1019 Q369,1034.8 384.5,1034.6 Q392,1034.5 400,1029.7 Q408,1034.5 415.5,1034.6 Q431.5,1034.8 431.5,1019 Q431,1004 413,1005.5" stroke-width="3.4" fill="#fff"/><rect x="388" y="999.5" width="25" height="9.5" rx="1" fill="#fff" stroke="#0c0c0c" stroke-width="2.6"/><path d="M387,1008.5 L414,1008.5" stroke-width="3.4" /><path d="M400,1029.7 L400,1026" stroke-width="2.2" /><circle cx="400" cy="1024" r="2.3" stroke-width="2"/><path d="M425,980.6 L504,980.6 L504,992 L425,992 Z" fill="#0c0c0c" stroke="none"/><path d="M425.5,988.8 L449.2,1019.5" stroke-width="3" /><path d="M435.3,990.5 L453.8,1014.5" stroke-width="3" /><path d="M449.2,1020.7 L504,1020.7" stroke-width="2" /><path d="M452,1015.4 L504,1015.4" stroke-width="4" /><path d="M449,1020 L454.5,1013.5" stroke-width="2.4" /></g><rect x="386" y="878.5" width="19.5" height="47.8" rx="0" fill="#0c0c0c" stroke="none"/><rect x="442.6" y="864" width="95.1" height="74.10000000000001" rx="0" fill="#fff" stroke="#0c0c0c" stroke-width="3.2"/><circle cx="572" cy="875" r="4.7" fill="#0c0c0c" stroke="none"/><circle cx="572" cy="893.4" r="4.7" fill="#0c0c0c" stroke="none"/><circle cx="572" cy="911.7" r="4.7" fill="#0c0c0c" stroke="none"/><circle cx="572" cy="930.2" r="4.7" fill="#0c0c0c" stroke="none"/><rect x="565.5" y="957.7" width="33.5" height="8.3" rx="0" fill="#0c0c0c" stroke="none"/><rect x="836.6" y="904.4" width="12" height="10.6" rx="0" fill="#0c0c0c" stroke="none"/><line x1="167.8" y1="26.5" x2="167.8" y2="742" stroke-width="2.6"/><line x1="837.2" y1="26.4" x2="837.2" y2="742" stroke-width="3.2"/><line x1="193" y1="35.4" x2="811" y2="35.4" stroke-width="3.2"/><polygon points="168.6,35.4 191.6,41.9 191.6,28.9" fill="#0c0c0c" stroke="none"/><polygon points="835.8,35.4 812.8,28.9 812.8,41.9" fill="#0c0c0c" stroke="none"/><g opacity="0.995" transform="translate(480.8,30.8) rotate(0) scale(0.92,1)"><text x="0" y="0" font-size="43.5" text-anchor="middle" fill="#0c0c0c">460</text></g><line x1="24" y1="78.6" x2="445" y2="78.6" stroke-width="3"/><line x1="34.2" y1="90" x2="34.2" y2="1010" stroke-width="3.3"/><polygon points="34.2,80.2 27.700000000000003,103.7 40.7,103.7" fill="#0c0c0c" stroke="none"/><polygon points="34.2,1021.6 40.7,998.1 27.700000000000003,998.1" fill="#0c0c0c" stroke="none"/><line x1="24" y1="1022.5" x2="398" y2="1022.5" stroke-width="2.6"/><g opacity="0.995" transform="translate(31.1,539.3) rotate(-90) scale(0.92,1)"><text x="0" y="0" font-size="43.5" text-anchor="middle" fill="#0c0c0c">646</text></g><line x1="87.9" y1="90" x2="87.9" y2="985" stroke-width="2.2"/><polygon points="87.9,80.2 81.4,103.7 94.4,103.7" fill="#0c0c0c" stroke="none"/><polygon points="87.9,994.4 94.4,970.9 81.4,970.9" fill="#0c0c0c" stroke="none"/><line x1="78.7" y1="995.7" x2="300" y2="995.7" stroke-width="3"/><g opacity="0.995" transform="translate(82.9,528.6) rotate(-90) scale(0.92,1)"><text x="0" y="0" font-size="43.5" text-anchor="middle" fill="#0c0c0c">630</text></g><line x1="722" y1="827.5" x2="978" y2="827.5" stroke-width="2.2"/><line x1="965" y1="836" x2="965" y2="986" stroke-width="2.4"/><polygon points="965,828.6 958.5,852.6 971.5,852.6" fill="#0c0c0c" stroke="none"/><polygon points="965,994.4 971.5,970.4 958.5,970.4" fill="#0c0c0c" stroke="none"/><line x1="706" y1="995.2" x2="975.5" y2="995.2" stroke-width="3"/><g opacity="0.995" transform="translate(958,911) rotate(-90) scale(0.92,1)"><text x="0" y="0" font-size="43.5" text-anchor="middle" fill="#0c0c0c">113</text></g><line x1="150.3" y1="930" x2="150.3" y2="1080" stroke-width="2.6"/><line x1="854.3" y1="893" x2="854.3" y2="1080" stroke-width="3"/><line x1="176" y1="1070" x2="829" y2="1070" stroke-width="3.4"/><polygon points="151.3,1070.2 174.8,1076.4 174.8,1064.0" fill="#0c0c0c" stroke="none"/><polygon points="853.2,1070.2 829.7,1064.0 829.7,1076.4" fill="#0c0c0c" stroke="none"/><g opacity="0.995" transform="translate(493.3,1066.5) rotate(0) scale(0.945,1)"><text x="0" y="0" font-size="43.5" text-anchor="middle" fill="#0c0c0c">483</text></g><g fill="#9a9a9a" stroke="#9a9a9a" opacity="0.145"><text x="2" y="174.3" font-size="12" fill="#9a9a9a" stroke="#9a9a9a" stroke-width="0.5" textLength="106" lengthAdjust="spacingAndGlyphs" style="stroke:#9a9a9a">GROUP</text><text x="-9" y="219.6" font-size="77" font-weight="bold" fill="#9a9a9a" stroke-width="2.5" textLength="396" lengthAdjust="spacingAndGlyphs" style="stroke:#9a9a9a;stroke-width:2.5px">novelty</text></g>
</svg>
</body></html>
